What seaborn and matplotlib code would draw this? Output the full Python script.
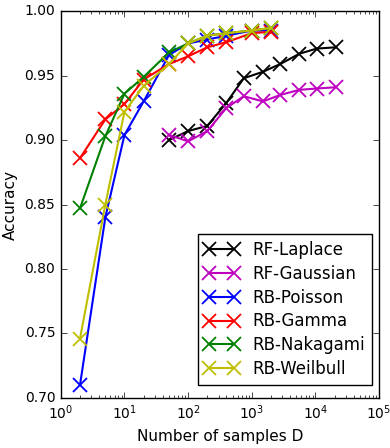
import matplotlib
matplotlib.use("Agg")
import matplotlib.pyplot as plt
import seaborn as sns
import pandas as pd

D_rf = [50, 100, 200, 400, 750, 1500, 2800, 5600, 10500, 21000]
D_rb = [2, 5, 10, 20, 50, 100, 200, 400, 1000, 2000]

rf_laplace = [0.900, 0.907, 0.911, 0.929, 0.948, 0.953, 0.959, 0.967, 0.971, 0.972]
rf_gaussian = [0.904, 0.899, 0.907, 0.925, 0.934, 0.930, 0.935, 0.939, 0.940, 0.941]
rb_poisson = [0.710, 0.840, 0.904, 0.930, 0.966, 0.975, 0.978, 0.981, 0.985, 0.985]
rb_gamma = [0.886, 0.916, 0.928, 0.947, 0.959, 0.965, 0.972, 0.976, 0.983, 0.984]
rb_nakagami = [0.847, 0.903, 0.936, 0.949, 0.968, 0.975, 0.981, 0.983, 0.985, 0.987]
rb_weilbull = [0.746, 0.850, 0.922, 0.942, 0.959, 0.975, 0.981, 0.983, 0.985, 0.987]

names = ["RF-Laplace", "RF-Gaussian", "RB-Poisson", "RB-Gamma", "RB-Nakagami", "RB-Weilbull"]
series = [rf_laplace, rf_gaussian, rb_poisson, rb_gamma, rb_nakagami, rb_weilbull]
xs = [D_rf, D_rf, D_rb, D_rb, D_rb, D_rb]
colors = ["#000000", "#bf00bf", "#0000ff", "#ff0000", "#008000", "#bfbf00"]

plt.style.use("classic")
plt.rcParams["font.family"] = ["DejaVu Sans"]
fig = plt.figure(figsize=(3.9, 4.48), dpi=100, facecolor="white")
ax = fig.add_axes([0.156, 0.112, 0.816, 0.863])

for n, x, y, c in zip(names, xs, series, colors):
    d = pd.DataFrame({"D": x, "acc": y})
    sns.lineplot(data=d, x="D", y="acc", color=c, marker="x", markersize=9.5,
                 markeredgewidth=1.3, markeredgecolor=c, linewidth=1.5,
                 ax=ax, label=n, sort=False, estimator=None)

ax.set_xscale("log")
ax.set_xlim(1, 1e5)
ax.set_ylim(0.70, 1.00)
ax.set_yticks([0.70, 0.75, 0.80, 0.85, 0.90, 0.95, 1.00])
ax.set_xlabel("Number of samples D", fontsize=11)
ax.set_ylabel("Accuracy", fontsize=11)
ax.tick_params(labelsize=10)
ax.set_facecolor("white")

h, l = ax.get_legend_handles_labels()
leg = ax.legend(h, l, loc="lower right", bbox_to_anchor=(0.978, 0.034),
                fontsize=12, numpoints=2, handlelength=2.1, frameon=True,
                fancybox=False, borderaxespad=0.0, labelspacing=0.35)
leg.get_frame().set_edgecolor("black")

fig.savefig("out.png", dpi=100, facecolor="white")
